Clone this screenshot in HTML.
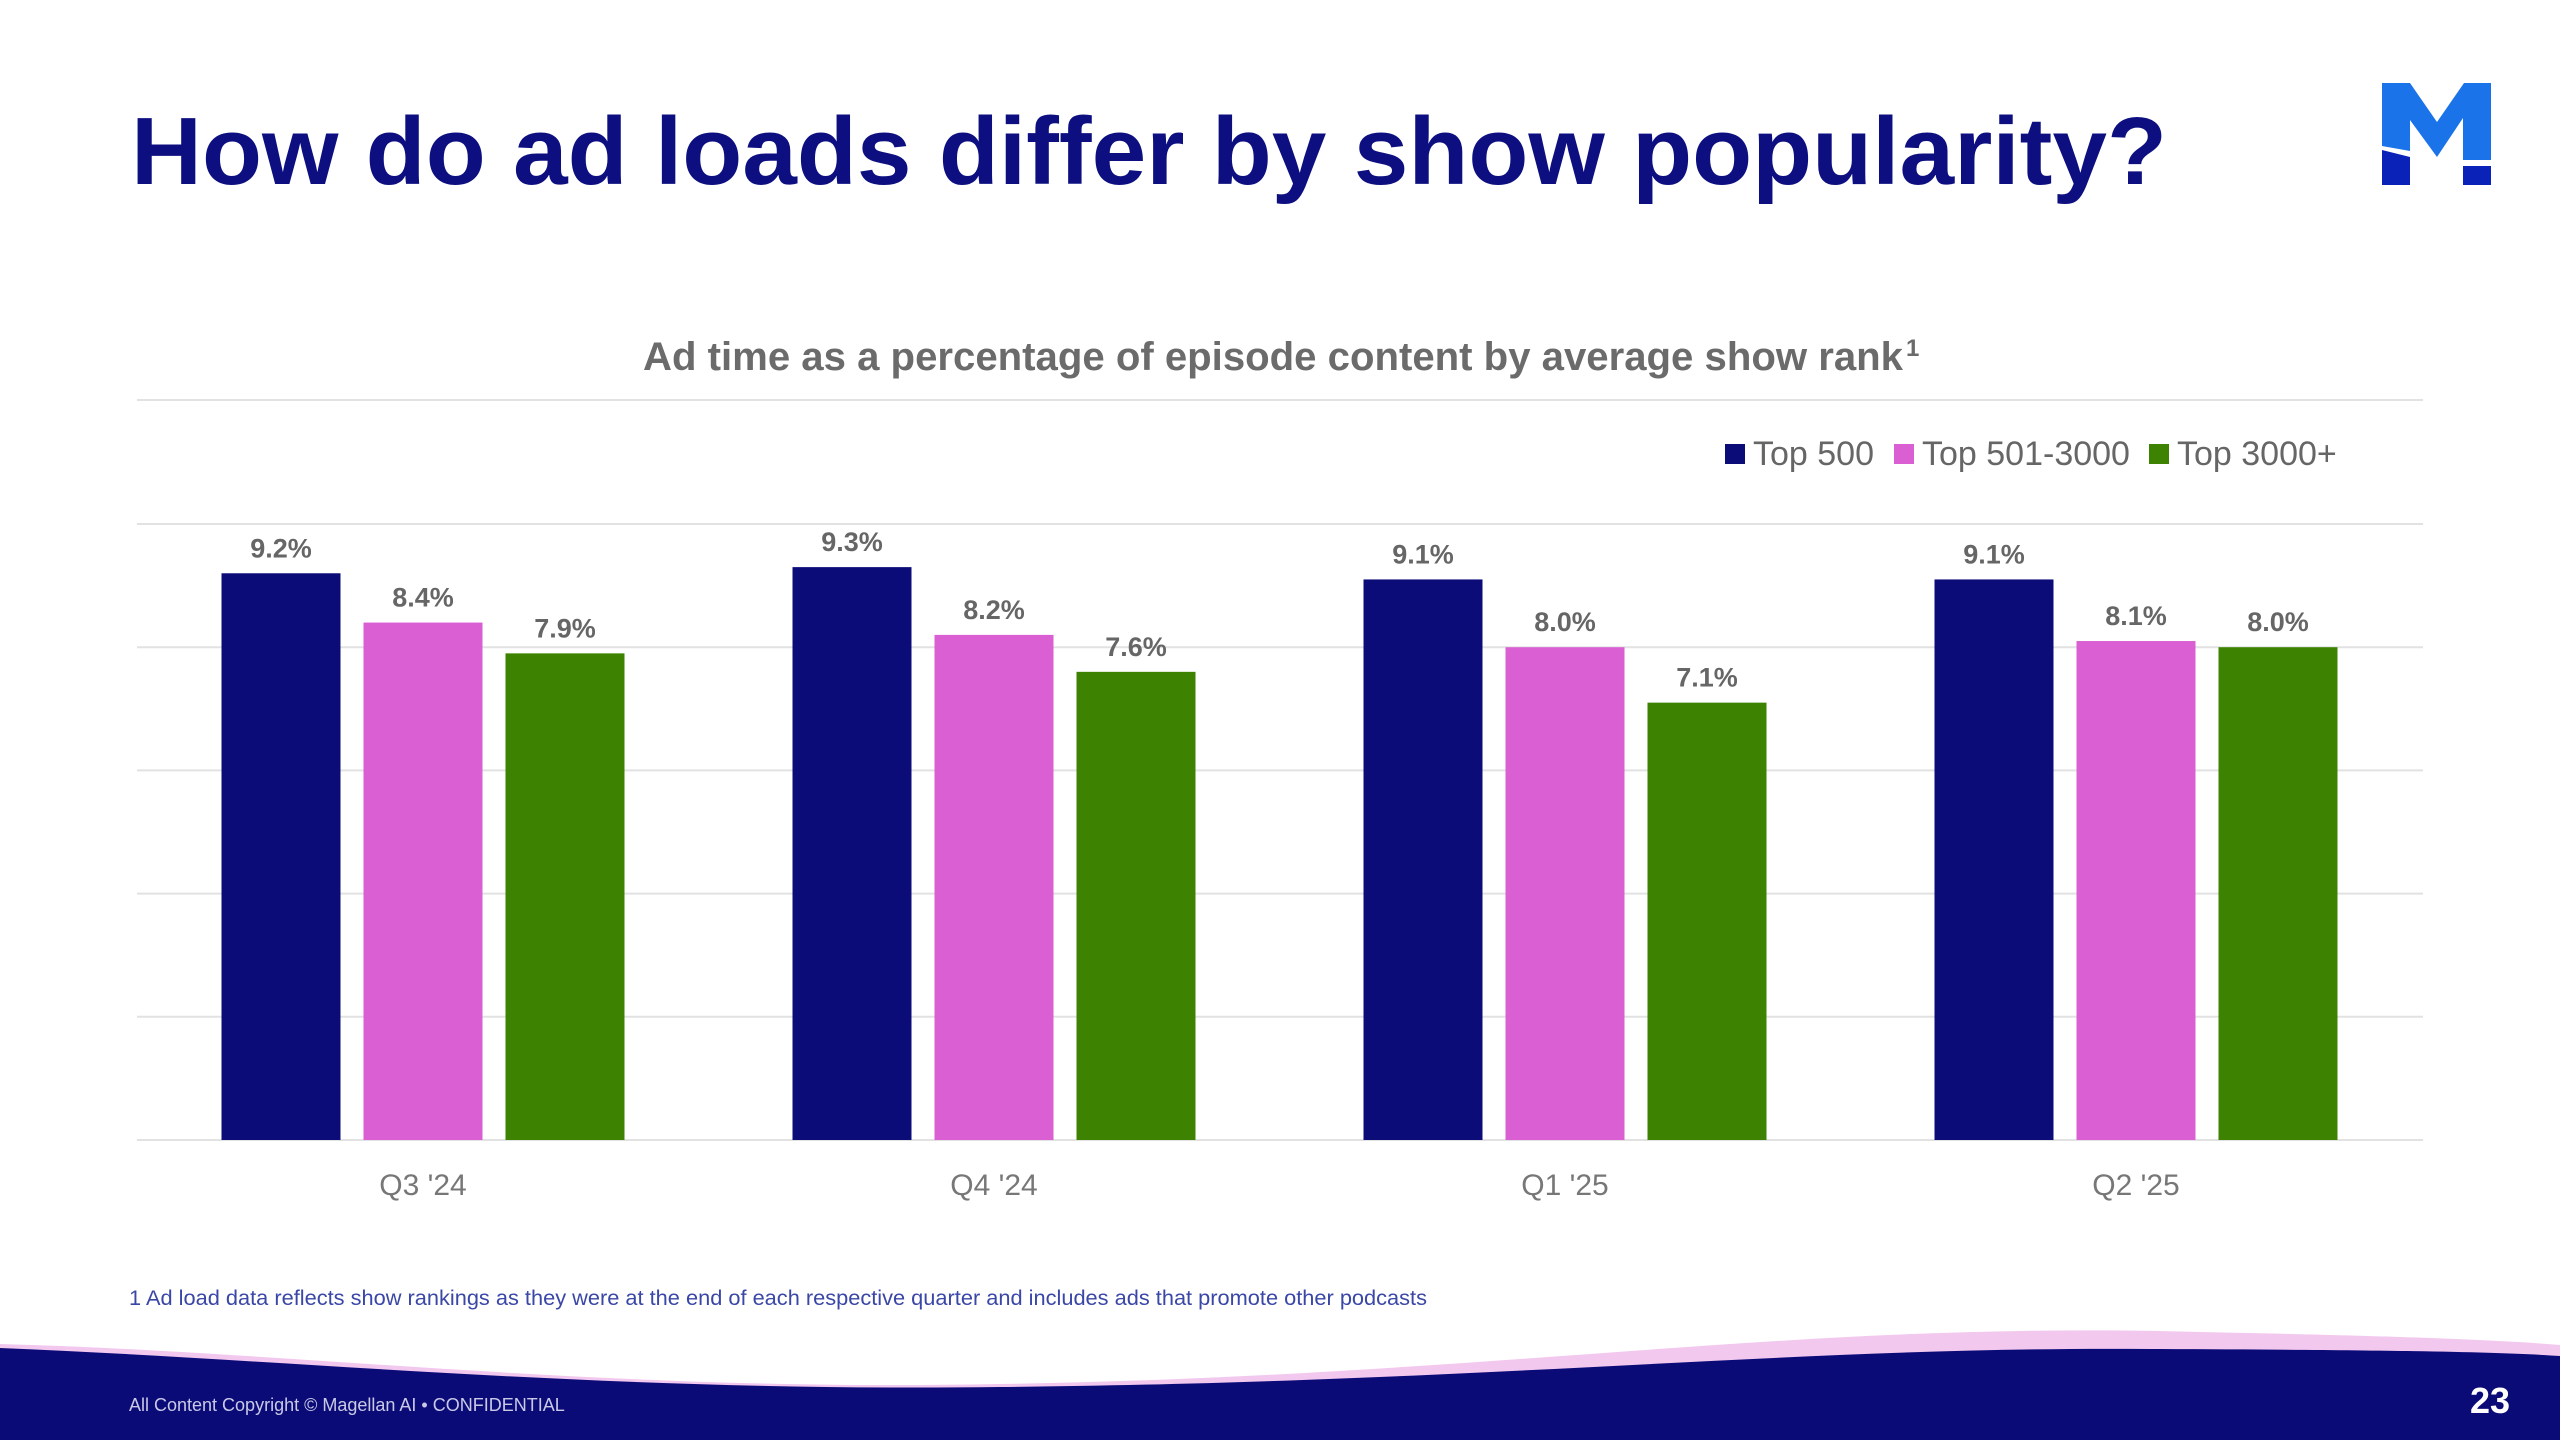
<!DOCTYPE html>
<html><head><meta charset="utf-8"><style>
html,body{margin:0;padding:0;background:#fff;}
svg{display:block;font-family:"Liberation Sans",sans-serif;}
</style></head><body>
<svg id="s" width="2560" height="1440" viewBox="0 0 2560 1440" xmlns="http://www.w3.org/2000/svg">
<text x="131" y="184" font-size="96" font-weight="bold" fill="#0d0f80" textLength="2036" lengthAdjust="spacingAndGlyphs">How do ad loads differ by show popularity?</text>
<g>
<polygon points="2382,83 2410,83 2437,122 2464,83 2491,83 2491,160 2463,160 2463,118 2437,157 2410,120 2410,151 2382,146" fill="#1a73e8"/>
<polygon points="2382,150 2410,157 2410,185 2382,185" fill="#0a22b8"/>
<polygon points="2463,166 2491,166 2491,185 2463,185" fill="#0a22b8"/>
</g>
<text x="643" y="370" font-size="40" font-weight="bold" fill="#6b6b6b" textLength="1260" lengthAdjust="spacingAndGlyphs">Ad time as a percentage of episode content by average show rank</text>
<text x="1906" y="356" font-size="24" font-weight="bold" fill="#6b6b6b">1</text>
<line x1="137" y1="400" x2="2423" y2="400" stroke="#e2e2e2" stroke-width="2"/>
<g id="legend"></g>
<g id="grid"></g>
<g id="bars"></g>
<g id="xlabels"></g>
<text x="129" y="1305" font-size="21" fill="#3a47a6" textLength="1298" lengthAdjust="spacingAndGlyphs">1 Ad load data reflects show rankings as they were at the end of each respective quarter and includes ads that promote other podcasts</text>
<g>
<path d="M0,1344 C300,1352 600,1392 1000,1384 C1500,1376 1800,1320 2200,1332 C2400,1336 2500,1340 2560,1345 L2560,1440 L0,1440 Z" fill="#f2c8ef"/>
<path d="M0,1348 C300,1360 600,1392 1000,1387 C1500,1382 1800,1346 2150,1349 C2400,1350 2500,1352 2560,1356 L2560,1440 L0,1440 Z" fill="#0b0b78"/>
<text x="129" y="1411" font-size="18" fill="#c9c9e6">All Content Copyright © Magellan AI • CONFIDENTIAL</text>
<text x="2510" y="1413" text-anchor="end" font-size="36" font-weight="bold" fill="#ffffff">23</text>
</g>
</svg>
<script>
const categories=["Q3 '24","Q4 '24","Q1 '25","Q2 '25"];
const seriesNames=["Top 500","Top 501-3000","Top 3000+"];
const top500=[9.2,9.3,9.1,9.1];
const top501to3000=[8.4,8.2,8.0,8.1];
const top3000plus=[7.9,7.6,7.1,8.0];
const yTicks=[0,2,4,6,8,10];
const NS="http://www.w3.org/2000/svg";
const colors=["#0b0c78","#d95fd3","#3d8200"];
const series=[top500,top501to3000,top3000plus];
const y0=1140,yTop=524,yMax=10;
function yScale(v){return y0-(v/yMax)*(y0-yTop);}
const groupStart=423,groupStep=571,barW=119,barStride=142;
function xCenter(i,s){return groupStart+i*groupStep+(s-1)*barStride;}
function mk(tag,attrs,parent){const e=document.createElementNS(NS,tag);for(const k in attrs)e.setAttribute(k,attrs[k]);parent.appendChild(e);return e;}
const grid=document.getElementById('grid');
yTicks.forEach(t=>{
  const l=mk('line',{x1:137,x2:2423,y1:yScale(t),y2:yScale(t),stroke:'#e2e2e2','stroke-width':2},grid);
  
  
});
const bars=document.getElementById('bars');
series.forEach((arr,s)=>{
  arr.forEach((v,i)=>{
    const cx=xCenter(i,s);
    const r=mk('rect',{x:cx-barW/2,y:yScale(v),width:barW,height:y0-yScale(v),fill:colors[s]},bars);
    
    
    const t=mk('text',{x:cx,y:yScale(v)-16,'text-anchor':'middle','font-size':27,'font-weight':'bold',fill:'#666'},bars);
    t.textContent=v.toFixed(1)+'%';
    
    
  });
});
const xl=document.getElementById('xlabels');
categories.forEach((c,i)=>{
  const t=mk('text',{x:xCenter(i,1),y:1195,'text-anchor':'middle','font-size':30,fill:'#777'},xl);
  t.textContent=c;
  
  
});
const lg=document.getElementById('legend');
const legX=[1725,1894,2149];
seriesNames.forEach((n,s)=>{
  const r=mk('rect',{x:legX[s],y:444,width:20,height:20,fill:colors[s]},lg);
  
  
  const t=mk('text',{x:legX[s]+28,y:465,'font-size':34,fill:'#666'},lg);
  t.textContent=n;
  
  
});
</script>
</body></html>
